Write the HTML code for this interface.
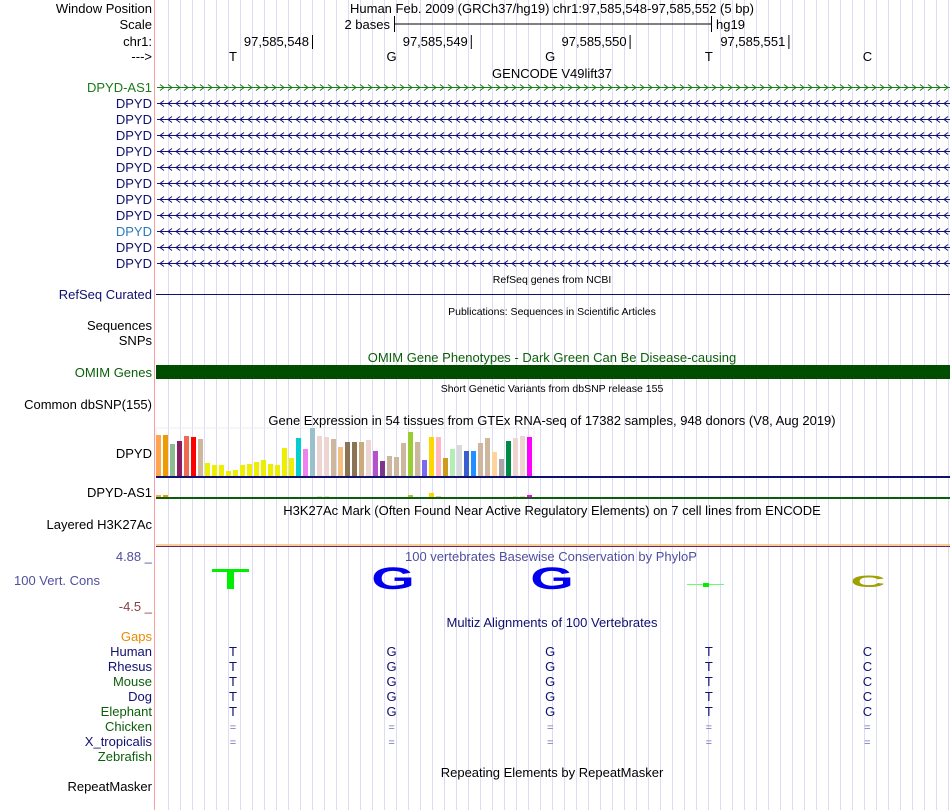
<!DOCTYPE html>
<html><head><meta charset="utf-8"><style>
body{margin:0;background:#fff;}
svg{display:block;font-family:"Liberation Sans",sans-serif;}
</style></head><body>
<svg id="s" width="950" height="810" viewBox="0 0 950 810">
<g id="grid"></g>
<line x1="154.5" y1="0" x2="154.5" y2="810" stroke="#f4a0a0" stroke-width="1"/>
<g font-size="13" fill="#000" text-anchor="end">
<text x="152" y="13">Window Position</text>
<text x="152" y="29">Scale</text>
<text x="152" y="46">chr1:</text>
<text x="152" y="61">---&gt;</text>
</g>
<text x="552" y="13" font-size="13" text-anchor="middle">Human Feb. 2009 (GRCh37/hg19)   chr1:97,585,548-97,585,552 (5 bp)</text>
<g>
<text x="390" y="29" font-size="13" text-anchor="end">2 bases</text>
<line x1="394" y1="24" x2="711" y2="24" stroke="#000"/>
<line x1="394.5" y1="16" x2="394.5" y2="32" stroke="#000"/>
<line x1="711.5" y1="16" x2="711.5" y2="32" stroke="#000"/>
<text x="716" y="29" font-size="13">hg19</text>
</g>
<g id="coords" font-size="13"></g>
<g id="bases" font-size="13" text-anchor="middle"></g>
<text x="552" y="78" font-size="13" text-anchor="middle">GENCODE V49lift37</text>
<g id="genes"></g>
<text x="552" y="283" font-size="10.5" text-anchor="middle">RefSeq genes from NCBI</text>
<text x="152" y="299" font-size="13" fill="#101070" text-anchor="end">RefSeq Curated</text>
<line x1="156" y1="294.5" x2="950" y2="294.5" stroke="#101070"/>
<text x="552" y="315" font-size="10.5" text-anchor="middle">Publications: Sequences in Scientific Articles</text>
<text x="152" y="330" font-size="13" text-anchor="end">Sequences</text>
<text x="152" y="345" font-size="13" text-anchor="end">SNPs</text>
<text x="552" y="362" font-size="13" fill="#0b5e0b" text-anchor="middle">OMIM Gene Phenotypes - Dark Green Can Be Disease-causing</text>
<text x="152" y="377" font-size="13" fill="#0b5e0b" text-anchor="end">OMIM Genes</text>
<rect x="156" y="365" width="794" height="14" fill="#004d00"/>
<text x="552" y="392" font-size="10.5" text-anchor="middle">Short Genetic Variants from dbSNP release 155</text>
<text x="152" y="409" font-size="13" text-anchor="end">Common dbSNP(155)</text>
<text x="552" y="425" font-size="13" text-anchor="middle">Gene Expression in 54 tissues from GTEx RNA-seq of 17382 samples, 948 donors (V8, Aug 2019)</text>
<text x="152" y="458" font-size="13" text-anchor="end">DPYD</text>
<text x="152" y="497" font-size="13" text-anchor="end">DPYD-AS1</text>
<rect x="156" y="428" width="378" height="48" fill="none" stroke="#eee"/>
<g id="gtex"></g>
<line x1="156" y1="477" x2="950" y2="477" stroke="#101070" stroke-width="2"/>
<line x1="156" y1="498" x2="950" y2="498" stroke="#0b5e0b" stroke-width="2"/>
<text x="552" y="515" font-size="13" text-anchor="middle">H3K27Ac Mark (Often Found Near Active Regulatory Elements) on 7 cell lines from ENCODE</text>
<text x="152" y="529" font-size="13" text-anchor="end">Layered H3K27Ac</text>
<line x1="156" y1="545" x2="950" y2="545" stroke="#f5c070" stroke-width="1.5"/>
<line x1="156" y1="546.5" x2="950" y2="546.5" stroke="#702070" stroke-width="1"/>
<text x="152" y="561" font-size="13" fill="#4f4f9f" text-anchor="end">4.88 _</text>
<text x="100" y="585" font-size="13" fill="#4f4f9f" text-anchor="end">100 Vert. Cons</text>
<text x="152" y="611" font-size="13" fill="#8f3f3f" text-anchor="end">-4.5 _</text>
<text x="405" y="561" font-size="13" fill="#4f4f9f">100 vertebrates Basewise Conservation by PhyloP</text>
<g>
<rect x="212" y="569" width="37" height="3" fill="#00ee00"/><rect x="227" y="569" width="7" height="20" fill="#00ee00"/>
<text x="393" y="589" font-size="40" font-weight="bold" fill="#0000ee" text-anchor="middle" transform="translate(393 589) scale(1.4 0.78) translate(-393 -589)">G</text>
<text x="552" y="589" font-size="40" font-weight="bold" fill="#0000ee" text-anchor="middle" transform="translate(552 589) scale(1.4 0.78) translate(-552 -589)">G</text>
<line x1="687" y1="584.5" x2="724" y2="584.5" stroke="#66ff66"/><rect x="703" y="583" width="6" height="4" fill="#00ee00"/>
<text x="868" y="587" font-size="30" font-weight="bold" fill="#a0a000" text-anchor="middle" transform="translate(868 587) scale(1.6 0.55) translate(-868 -587)">C</text>
</g>
<text x="552" y="627" font-size="13" fill="#101070" text-anchor="middle">Multiz Alignments of 100 Vertebrates</text>
<g id="species" font-size="13" text-anchor="end"></g>
<g id="aln" font-size="13" text-anchor="middle"></g>
<text x="552" y="777" font-size="13" text-anchor="middle">Repeating Elements by RepeatMasker</text>
<text x="152" y="791" font-size="13" text-anchor="end">RepeatMasker</text>
</svg>
<script>
const tissueValues=[41,41,32,35,40,39,37,13,11,11,5,6,11,12,14,16,12,11,28,18,38,27,48,40,39,37,29,34,34,34,36,25,15,20,19,33,44,34,16,39,39,18,27,31,25,25,33,38,24,17,35,38,40,39];
const as1Values=[2,2,0,0,0,0,0,0,0,0,0,0,0,0,0,0,0,0,0,0,0,0,0,1,1,0,0,0,0,0,0,0,0,0,0,0,2,0,0,4,1,0,0,0,0,0,0,0,0,0,0,1,1,2];
const tissueColors=["#FFA54F","#EE9A00","#8FBC8F","#8B1C62","#EE6A50","#FF0000","#CDB79E","#EEEE00","#EEEE00","#EEEE00","#EEEE00","#EEEE00","#EEEE00","#EEEE00","#EEEE00","#EEEE00","#EEEE00","#EEEE00","#EEEE00","#EEEE00","#00CED1","#EE82EE","#9AC0CD","#EED5D2","#EED5D2","#CDB79E","#F4C07F","#8B7355","#8B7355","#CDAA7D","#EED5D2","#B452CD","#7A378B","#CDB79E","#CDB79E","#CDB79E","#9ACD32","#CDB79E","#7B68EE","#FFD700","#FFB6C1","#CD9B1D","#B4EEB4","#D9D9D9","#3A5FCD","#1E90FF","#CDB79E","#CDB79E","#FFD39B","#A6A6A6","#008B45","#EED5D2","#EED5D2","#FF00FF"];
const refBases=["T","G","G","T","C"];
const coordLabels=["97,585,548","97,585,549","97,585,550","97,585,551"];
const geneNames=["DPYD-AS1","DPYD","DPYD","DPYD","DPYD","DPYD","DPYD","DPYD","DPYD","DPYD","DPYD","DPYD"];
const speciesNames=["Gaps","Human","Rhesus","Mouse","Dog","Elephant","Chicken","X_tropicalis","Zebrafish"];
const speciesBases=[null,"T","T","T","T","T","=","=",null];
const NS="http://www.w3.org/2000/svg";
function mk(t,a,p){const e=document.createElementNS(NS,t);for(const k in a)e.setAttribute(k,a[k]);p.appendChild(e);return e;}
const baseX=i=>233+i*158.6;
const barX=i=>156+i*7;
const yMax=48, yBase=476, yTop=428;
const barY=v=>yBase-(v/yMax)*(yBase-yTop);
const g=document.getElementById('grid');
for(let x=168;x<950;x+=12){const l=mk('line',{x1:x+.5,y1:0,x2:x+.5,y2:810,stroke:'#dcdcf4'},g);

}
const c=document.getElementById('coords');
coordLabels.forEach((s,i)=>{const x=312+i*158.8;const t=mk('text',{x:x-3,y:46,'text-anchor':'end'},c);t.textContent=s;


const l=mk('line',{x1:x+.5,y1:35,x2:x+.5,y2:49,stroke:'#000'},c);

});
const b=document.getElementById('bases');
refBases.forEach((s,i)=>{const t=mk('text',{x:baseX(i),y:61},b);t.textContent=s;

});
const gn=document.getElementById('genes');
geneNames.forEach((n,i)=>{const y=87+i*16;const fwd=i===0;
const col=fwd?'#1a7a1a':(i===9?'#2a7ab8':'#101070');
const lc=fwd?'#1a7a1a':'#101070';
const t=mk('text',{x:152,y:y+5,'font-size':13,fill:col,'text-anchor':'end'},gn);t.textContent=n;


const l=mk('line',{x1:157,y1:y+.5,x2:950,y2:y+.5,stroke:lc},gn);


for(let x=160;x<948;x+=8){const d=fwd?`M${x},${y-2.5} L${x+4},${y+.5} L${x},${y+3.5}`:`M${x+4},${y-2.5} L${x},${y+.5} L${x+4},${y+3.5}`;
const p=mk('path',{d:d,fill:'none',stroke:lc},gn);

}
});
const gx=document.getElementById('gtex');
tissueValues.forEach((v,i)=>{const y=barY(v);const r=mk('rect',{x:barX(i),y:y,width:5,height:yBase-y,fill:tissueColors[i]},gx);

});
as1Values.forEach((v,i)=>{if(!v)return;const r=mk('rect',{x:barX(i),y:497-v,width:5,height:v,fill:tissueColors[i]},gx);

});
const sp=document.getElementById('species'),al=document.getElementById('aln');
const spCol=["#ee8800","#101070","#101070","#0b5e0b","#101070","#0b5e0b","#0b5e0b","#101070","#0b5e0b"];
speciesNames.forEach((n,i)=>{const y=641+i*15;const t=mk('text',{x:152,y:y,fill:spCol[i]},sp);t.textContent=n;


if(speciesBases[i]){refBases.forEach((bs,j)=>{const ch=speciesBases[i]==='='?'=':bs;const tt=mk('text',{x:baseX(j),y:y,fill:ch==='='?'#7070b0':'#101070','font-size':ch==='='?11:13},al);tt.textContent=ch;

});}});
</script>
</body></html>
